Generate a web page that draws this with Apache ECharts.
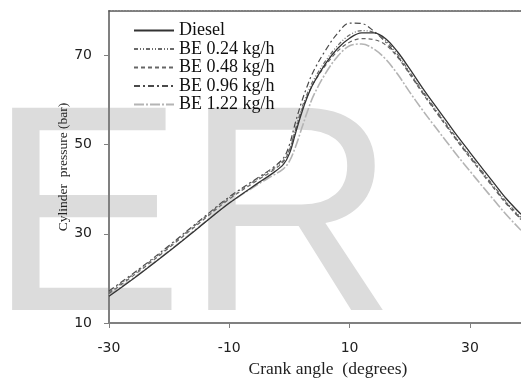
<!DOCTYPE html>
<html>
<head>
<meta charset="utf-8">
<script src="https://cdn.jsdelivr.net/npm/echarts@6/dist/echarts.min.js"></script>
<style>
    html, body { margin: 0; padding: 0; background: #fff; }
    #chart { width: 521px; height: 378px; }
</style>
</head>
<body>
<div id="chart"></div>
<script>
// crank angle (degrees)
const angles = [-30, -25, -20, -15, -10, -5, -3, -1, 0, 1, 2, 3, 4, 6, 8, 10, 12, 14, 16, 18, 20, 22, 24, 26, 28, 30, 32, 34, 36, 38.5];

// cylinder pressure (bar)
const diesel = [16.0, 20.9, 26.1, 31.5, 36.9, 41.6, 43.4, 45.6, 48.0, 52.5, 57.0, 60.8, 63.8, 68.2, 71.6, 73.9, 75.1, 75.1, 73.8, 70.8, 67.0, 63.0, 59.2, 55.5, 51.8, 48.3, 44.8, 41.4, 38.0, 34.4];
const be024 = [16.9, 21.9, 27.2, 32.7, 38.1, 42.6, 44.3, 46.5, 49.0, 53.5, 58.0, 61.6, 64.5, 68.8, 72.2, 74.6, 75.6, 75.2, 73.4, 70.2, 66.3, 62.3, 58.5, 54.8, 51.1, 47.6, 44.1, 40.7, 37.3, 33.7];
const be048 = [16.6, 21.6, 26.9, 32.4, 37.8, 42.3, 44.0, 46.2, 48.8, 53.2, 57.5, 61.0, 63.8, 67.8, 71.0, 73.0, 73.8, 73.6, 72.4, 69.6, 65.8, 61.8, 58.0, 54.3, 50.6, 47.1, 43.6, 40.2, 36.8, 33.2];
const be096 = [17.2, 22.1, 27.4, 32.9, 38.3, 42.8, 44.6, 47.0, 50.0, 55.0, 59.5, 63.3, 66.5, 71.2, 75.0, 77.3, 77.2, 75.5, 73.0, 69.8, 66.0, 62.0, 58.2, 54.5, 50.8, 47.3, 43.8, 40.4, 37.0, 33.4];
const be122 = [16.2, 21.0, 26.2, 31.6, 36.9, 41.3, 42.9, 44.6, 46.3, 49.5, 53.5, 57.5, 61.0, 66.0, 69.8, 72.2, 72.6, 71.5, 69.2, 65.8, 61.8, 58.0, 54.4, 50.9, 47.4, 44.1, 40.8, 37.6, 34.4, 30.8];

const seriesNames = ['Diesel', 'BE 0.24 kg/h', 'BE 0.48 kg/h', 'BE 0.96 kg/h', 'BE 1.22 kg/h'];
const xTicks = [-30, -10, 10, 30];
const yTicks = [10, 30, 50, 70];

const serif = '"Liberation Serif", "Times New Roman", serif';
const sans = '"DejaVu Sans", Verdana, sans-serif';

// line look per series
const lineLooks = [
    { color: '#333333', width: 1.3, type: 'solid' },
    { color: '#6a6a6a', width: 1.2, type: [4, 2, 1, 2, 1, 2] },
    { color: '#666666', width: 1.2, type: [4, 3] },
    { color: '#4a4a4a', width: 1.2, type: [6, 3, 2, 3] },
    { color: '#b4b4b4', width: 1.6, type: [10, 2, 2, 2] },
];

const values = [diesel, be024, be048, be096, be122];

function pairUp(ys) {
    return angles.map((a, i) => [a, ys[i]]);
}

const series = seriesNames.map((name, i) => ({
    name: name,
    type: 'line',
    smooth: 0.35,
    symbol: 'none',
    xAxisIndex: 0,
    yAxisIndex: 0,
    lineStyle: lineLooks[i],
    itemStyle: { color: lineLooks[i].color },
    data: pairUp(values[i]),
    z: 5 - i,
}));

const option = {
    animation: false,
    backgroundColor: '#ffffff',
    graphic: [{
        // watermark
        type: 'text',
        z: -10,
        silent: true,
        style: {
            text: 'ER',
            x: -12,
            y: 229,
            verticalAlign: 'middle',
            align: 'left',
            font: '294px "Liberation Sans", Arial, sans-serif',
            fill: '#dcdcdc',
        },
    }],
    grid: {
        left: 109,
        right: 0,
        top: 11,
        bottom: 55,
        outerBoundsMode: 'none',
    },
    legend: {
        orient: 'vertical',
        left: 128,
        top: 16.5,
        itemWidth: 40,
        itemHeight: 14,
        itemGap: 0.5,
        itemStyle: { opacity: 0 },
        data: seriesNames,
        textStyle: {
            fontFamily: serif,
            fontSize: 18,
            lineHeight: 18,
            color: '#111',
        },
    },
    xAxis: [{
        type: 'value',
        min: -30,
        max: 38.5,
        name: 'Crank angle  (degrees)',
        nameLocation: 'middle',
        nameGap: 37,
        nameMoveOverlap: false,
        nameTextStyle: { fontFamily: serif, fontSize: 17.5, color: '#222', padding: [0, 0, 0, 26] },
        splitLine: { show: false },
        axisLine: { onZero: false, lineStyle: { color: '#808080', width: 2 } },
        axisTick: { customValues: xTicks, length: 5, lineStyle: { color: '#808080' } },
        axisLabel: {
            customValues: xTicks,
            margin: 18,
            fontFamily: sans,
            fontSize: 14,
            color: '#222',
        },
    }, {
        type: 'value',
        position: 'top',
        min: -30,
        max: 38.5,
        splitLine: { show: false },
        axisTick: { show: false },
        axisLabel: { show: false },
        axisLine: { onZero: false, lineStyle: { color: '#555555', width: 1.5, type: [2, 1] } },
    }],
    yAxis: {
        type: 'value',
        min: 10,
        max: 80,
        name: 'Cylinder  pressure (bar)',
        nameLocation: 'middle',
        nameGap: 39,
        nameMoveOverlap: false,
        nameTextStyle: { fontFamily: serif, fontSize: 13.5, color: '#222' },
        splitLine: { show: false },
        axisLine: { show: true, onZero: false, lineStyle: { color: '#808080', width: 2 } },
        axisTick: { show: true, customValues: yTicks, length: 5, lineStyle: { color: '#808080' } },
        axisLabel: {
            customValues: yTicks,
            margin: 17,
            fontFamily: sans,
            fontSize: 14,
            color: '#222',
        },
    },
    series: series,
};

const chart = echarts.init(document.getElementById('chart'), null, { renderer: 'canvas' });
chart.setOption(option);
</script>
</body>
</html>
